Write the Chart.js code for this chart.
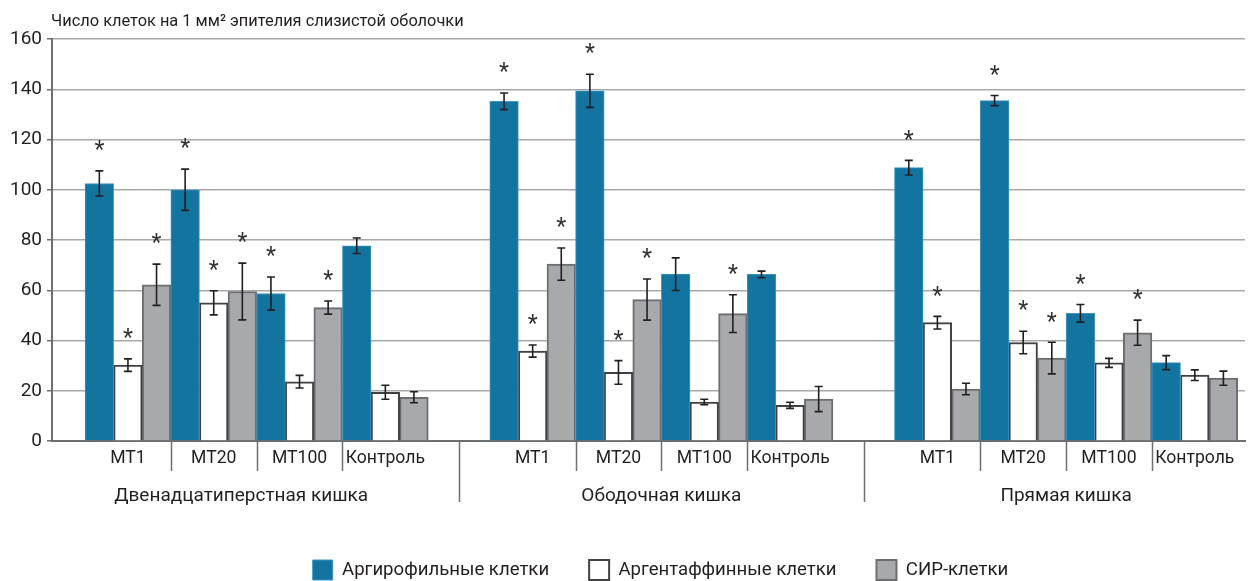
<!DOCTYPE html>
<html>
<head>
<meta charset="utf-8">
<script src="https://cdn.jsdelivr.net/npm/chart.js@4.4.0/dist/chart.umd.min.js"></script>
<style>
  html, body { margin: 0; padding: 0; background: #ffffff; }
  #wrap { width: 1259px; height: 581px; }
</style>
</head>
<body>
<div id="wrap"><canvas id="chart" width="1259" height="581"></canvas></div>
<script>
// Categories
const groups = ['Двенадцатиперстная кишка', 'Ободочная кишка', 'Прямая кишка'];
const subgroups = ['МТ1', 'МТ20', 'МТ100', 'Контроль'];
const seriesNames = ['Аргирофильные клетки', 'Аргентаффинные клетки', 'СИР-клетки'];
const yAxisTitle = 'Число клеток на 1 мм² эпителия слизистой оболочки';
const yTickValues = [0, 20, 40, 60, 80, 100, 120, 140, 160];

// Means, order: group by group, МТ1 / МТ20 / МТ100 / Контроль
const argyrophil = [102.5, 100.0, 58.7, 77.7, 135.2, 139.4, 66.4, 66.3, 108.8, 135.5, 50.8, 31.2];
const argentaffin = [30.2, 55.0, 23.6, 19.4, 35.8, 27.3, 15.5, 14.2, 47.1, 39.2, 31.1, 26.2];
const sirCells = [62.2, 59.5, 53.1, 17.4, 70.4, 56.3, 50.7, 16.7, 20.7, 33.0, 43.1, 25.0];

// Standard errors
const argyrophilErr = [5.0, 8.2, 6.6, 3.1, 3.3, 6.6, 6.5, 1.3, 2.9, 2.0, 3.5, 2.8];
const argentaffinErr = [2.5, 4.8, 2.5, 2.8, 2.4, 4.7, 1.1, 1.2, 2.5, 4.5, 1.8, 2.1];
const sirCellsErr = [8.2, 11.3, 2.6, 2.2, 6.4, 8.2, 7.5, 5.0, 2.3, 6.3, 5.0, 2.8];

// Significant difference from control (1 = marked with *)
const argyrophilSig = [1, 1, 1, 0, 1, 1, 0, 0, 1, 1, 1, 0];
const argentaffinSig = [1, 1, 0, 0, 1, 1, 0, 0, 1, 1, 0, 0];
const sirCellsSig = [1, 1, 1, 0, 1, 1, 1, 0, 0, 1, 1, 0];

// Horizontal layout in units of one subgroup width
const LEAD = 0.385;
const GROUP_GAP = 0.717;
const TRAIL = 0.085;
const GROUP_LABEL_SHIFT = [-0.18, 0, 0];
const LEGEND_SHIFT = 38;
const X_MAX = LEAD + groups.length * subgroups.length + (groups.length - 1) * GROUP_GAP + TRAIL;

function subStart(g, s) {
  return LEAD + g * (subgroups.length + GROUP_GAP) + s;
}
function toPoints(values) {
  return values.map((v, i) => ({
    x: subStart(Math.floor(i / subgroups.length), i % subgroups.length) + 0.5,
    y: v
  }));
}

const FONT = "Roboto, 'Noto Sans', 'DejaVu Sans', sans-serif";
const TEXT = '#231f20';

// Error bars and significance marks
const errorBarsPlugin = {
  id: 'errorBars',
  afterDatasetsDraw(chart) {
    const ctx = chart.ctx;
    const y = chart.scales.y;
    ctx.save();
    ctx.font = '23px ' + FONT;
    const m = ctx.measureText('*');
    const starMid = (m.actualBoundingBoxAscent - m.actualBoundingBoxDescent) / 2;
    chart.data.datasets.forEach((ds, di) => {
      const meta = chart.getDatasetMeta(di);
      meta.data.forEach((bar, i) => {
        const v = ds.data[i].y;
        const e = ds.err[i];
        const yTop = y.getPixelForValue(v + e);
        const yBot = y.getPixelForValue(v - e);
        const cx = bar.x;
        ctx.strokeStyle = '#231f20';
        ctx.lineWidth = 1.6;
        ctx.beginPath();
        ctx.moveTo(cx, yTop); ctx.lineTo(cx, yBot);
        ctx.moveTo(cx - 4, yTop); ctx.lineTo(cx + 4, yTop);
        ctx.moveTo(cx - 4, yBot); ctx.lineTo(cx + 4, yBot);
        ctx.stroke();
        if (ds.sig[i]) {
          ctx.fillStyle = '#333333';
          ctx.textAlign = 'center';
          ctx.textBaseline = 'alphabetic';
          ctx.fillText('*', cx, yTop - 20 + starMid);
        }
      });
    });
    ctx.restore();
  }
};

// Two-level category labels and separators under the x axis, plus the axis caption
const axisTextPlugin = {
  id: 'axisText',
  afterLayout(chart) {
    if (chart.legend) {
      chart.legend.left += LEGEND_SHIFT;
      chart.legend.right += LEGEND_SHIFT;
    }
  },
  afterDraw(chart) {
    const ctx = chart.ctx;
    const x = chart.scales.x;
    const area = chart.chartArea;
    const bottom = area.bottom;
    ctx.save();
    ctx.strokeStyle = '#6d6e71';
    ctx.lineWidth = 1.5;
    ctx.fillStyle = TEXT;
    ctx.textAlign = 'center';
    ctx.textBaseline = 'alphabetic';
    groups.forEach((gName, g) => {
      ctx.font = '17.6px ' + FONT;
      subgroups.forEach((sName, s) => {
        ctx.fillText(sName, x.getPixelForValue(subStart(g, s) + 0.5), bottom + 22);
        if (s > 0) {
          const px = Math.round(x.getPixelForValue(subStart(g, s))) + 0.5;
          ctx.beginPath(); ctx.moveTo(px, bottom); ctx.lineTo(px, bottom + 30); ctx.stroke();
        }
      });
      if (g < groups.length - 1) {
        const px = Math.round(x.getPixelForValue(subStart(g, subgroups.length) + GROUP_GAP / 2)) + 0.5;
        ctx.beginPath(); ctx.moveTo(px, bottom); ctx.lineTo(px, bottom + 61); ctx.stroke();
      }
      ctx.font = '19px ' + FONT;
      const gc = subStart(g, subgroups.length / 2) + GROUP_LABEL_SHIFT[g];
      ctx.fillText(gName, x.getPixelForValue(gc), bottom + 60);
    });
    ctx.textAlign = 'left';
    ctx.font = '16.4px ' + FONT;
    ctx.fillText(yAxisTitle, area.left - 1, 26);
    ctx.restore();
  }
};

const datasets = [
  { label: seriesNames[0], data: toPoints(argyrophil), err: argyrophilErr, sig: argyrophilSig,
    backgroundColor: '#1474a0', borderColor: '#3f93bf', borderWidth: 1 },
  { label: seriesNames[1], data: toPoints(argentaffin), err: argentaffinErr, sig: argentaffinSig,
    backgroundColor: '#ffffff', borderColor: '#414042', borderWidth: 2 },
  { label: seriesNames[2], data: toPoints(sirCells), err: sirCellsErr, sig: sirCellsSig,
    backgroundColor: '#a7a9ac', borderColor: '#6d6e71', borderWidth: 2 }
];

new Chart(document.getElementById('chart'), {
  type: 'bar',
  data: { datasets },
  options: {
    responsive: false,
    animation: false,
    devicePixelRatio: 1,
    layout: { padding: { top: 39, right: 14, left: 0, bottom: 0 } },
    datasets: { bar: { categoryPercentage: 1, barPercentage: 1 } },
    scales: {
      x: {
        type: 'linear',
        offset: false,
        min: 0,
        max: X_MAX,
        grid: { display: false },
        ticks: { display: false },
        border: { display: true, color: '#6d6e71', width: 2 },
        afterBuildTicks: s => { s.ticks = [{ value: s.min }, { value: s.max }]; },
        afterFit: s => { s.height = 79; }
      },
      y: {
        min: 0,
        max: 160,
        afterBuildTicks: s => { s.ticks = yTickValues.map(v => ({ value: v })); },
        ticks: { font: { family: FONT, size: 19 }, color: TEXT, padding: 5 },
        grid: { color: '#a8a8a8', lineWidth: 1.5, tickColor: '#6d6e71', tickLength: 5 },
        border: { color: '#6d6e71', width: 2 },
        afterFit: s => { s.width = 52; }
      }
    },
    plugins: {
      legend: {
        position: 'bottom',
        maxHeight: 61,
        labels: {
          font: { family: FONT, size: 18.6 },
          color: TEXT,
          boxWidth: 20,
          boxHeight: 20,
          padding: 40
        }
      },
      tooltip: { enabled: false }
    }
  },
  plugins: [errorBarsPlugin, axisTextPlugin]
});
</script>
</body>
</html>
